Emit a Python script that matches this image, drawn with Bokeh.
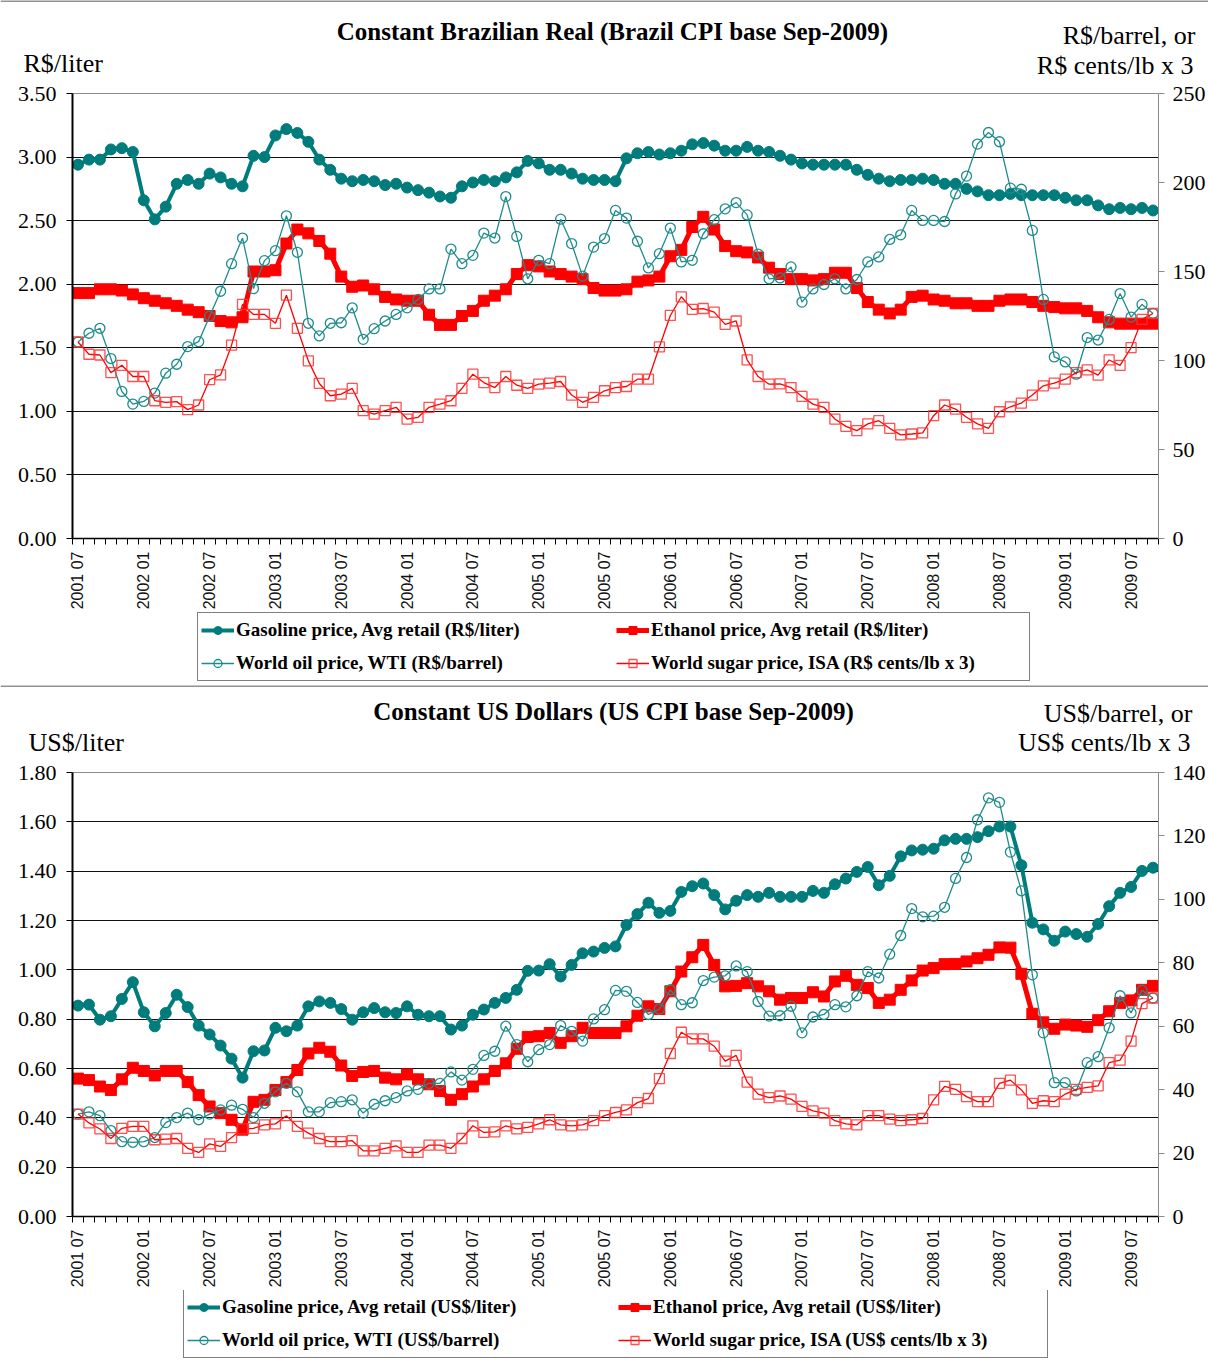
import numpy as np
from bokeh.plotting import figure
from bokeh.models import (Range1d, LinearAxis, FixedTicker, NumeralTickFormatter,
                          Legend, LegendItem, Label, Span)
from bokeh.embed import file_html
from bokeh.resources import INLINE

# ---------------- data ----------------
months = []
for yr in range(2001, 2010):
    for mo in range(1, 13):
        if (yr == 2001 and mo < 7) or (yr == 2009 and mo > 9):
            continue
        months.append(f"{yr} {mo:02d}")

tick_labels = ["2001 07", "2002 01", "2002 07", "2003 01", "2003 07", "2004 01",
               "2004 07", "2005 01", "2005 07", "2006 01", "2006 07", "2007 01",
               "2007 07", "2008 01", "2008 07", "2009 01", "2009 07"]

# Constant Brazilian Real
gas_brl = [2.94, 2.98, 2.98, 3.06, 3.07, 3.04, 2.66, 2.51, 2.61, 2.79, 2.82, 2.79, 2.87, 2.84, 2.79, 2.77, 3.01, 3.00, 3.17, 3.22, 3.19, 3.12, 2.98, 2.90, 2.83,
           2.81, 2.82, 2.81, 2.78, 2.79, 2.76, 2.74, 2.72, 2.69, 2.68, 2.77, 2.80, 2.82, 2.81, 2.84, 2.88, 2.97, 2.95, 2.90, 2.90, 2.87, 2.83, 2.82, 2.82, 2.81,
           2.99, 3.03, 3.04, 3.02, 3.03, 3.05, 3.10, 3.11, 3.09, 3.05, 3.05, 3.08, 3.05, 3.04, 3.01, 2.98, 2.95, 2.94, 2.94, 2.94, 2.94, 2.90, 2.86, 2.83, 2.81,
           2.82, 2.82, 2.83, 2.82, 2.79, 2.79, 2.75, 2.73, 2.70, 2.70, 2.71, 2.70, 2.70, 2.70, 2.70, 2.68, 2.66, 2.66, 2.62, 2.59, 2.60, 2.59, 2.60, 2.58]
eth_brl = [1.93, 1.93, 1.96, 1.96, 1.95, 1.92, 1.89, 1.87, 1.85, 1.83, 1.80, 1.78, 1.75, 1.71, 1.70, 1.74, 2.10, 2.10, 2.11, 2.32, 2.43, 2.40, 2.34, 2.24, 2.06,
           1.98, 1.99, 1.96, 1.90, 1.88, 1.87, 1.87, 1.76, 1.68, 1.68, 1.75, 1.79, 1.87, 1.91, 1.96, 2.08, 2.15, 2.14, 2.10, 2.08, 2.06, 2.04, 1.97, 1.95, 1.95,
           1.96, 2.02, 2.03, 2.06, 2.22, 2.27, 2.45, 2.53, 2.43, 2.30, 2.26, 2.25, 2.21, 2.13, 2.08, 2.04, 2.04, 2.03, 2.04, 2.09, 2.09, 1.97, 1.86, 1.80, 1.77,
           1.80, 1.90, 1.91, 1.88, 1.87, 1.85, 1.85, 1.83, 1.83, 1.87, 1.88, 1.88, 1.86, 1.83, 1.82, 1.81, 1.81, 1.79, 1.74, 1.70, 1.69, 1.69, 1.69, 1.69]
oil_brl = [110.4, 115.3, 118.1, 101.1, 82.6, 75.5, 77.0, 81.7, 92.9, 97.9, 107.8, 110.6, 124.9, 138.9, 154.4, 168.8, 140.4, 156.1, 161.7, 181.3, 160.8, 120.9, 113.8, 120.9, 121.2,
           129.6, 111.9, 117.9, 122.2, 125.9, 129.6, 134.3, 140.2, 140.2, 162.6, 154.4, 159.1, 171.6, 168.8, 192.1, 169.7, 145.9, 156.3, 154.4, 179.4, 165.7, 147.4, 163.7, 168.5, 184.3,
           180.0, 167.0, 152.0, 160.0, 174.4, 155.4, 156.3, 171.2, 179.1, 185.2, 188.7, 181.8, 159.8, 145.9, 146.4, 152.6, 132.8, 140.2, 142.7, 145.9, 140.2, 145.5, 155.4, 158.2, 168.0,
           170.6, 184.3, 178.7, 178.7, 178.1, 193.6, 203.6, 221.6, 228.1, 222.9, 196.8, 196.2, 173.1, 134.3, 102.0, 99.2, 92.3, 112.9, 111.5, 123.1, 137.6, 124.4, 131.5, 126.4]
sugar_brl = [110.4, 103.5, 103.1, 93.2, 97.3, 91.0, 91.0, 77.4, 76.5, 76.9, 72.4, 75.0, 89.2, 91.9, 108.6, 131.5, 125.9, 125.9, 120.9, 136.7, 118.1, 99.8, 87.1, 80.2, 81.1,
             84.3, 71.8, 69.9, 71.8, 73.7, 67.1, 68.1, 73.7, 75.5, 77.4, 84.3, 92.3, 87.6, 84.8, 91.0, 86.1, 84.3, 86.7, 87.3, 88.2, 80.6, 76.5, 79.3, 83.0, 84.8,
             85.4, 89.5, 89.5, 107.6, 125.3, 135.8, 128.7, 129.2, 127.2, 120.3, 122.2, 100.3, 91.0, 86.7, 86.9, 84.8, 79.8, 75.5, 73.7, 67.1, 63.0, 60.6, 64.4, 66.2, 61.9,
             58.2, 58.7, 59.3, 69.0, 75.0, 72.7, 68.1, 64.4, 61.9, 71.2, 74.0, 76.1, 80.6, 85.8, 87.3, 89.5, 93.2, 94.7, 91.8, 100.3, 97.3, 107.2, 123.1, 126.4]

# Constant US Dollars
gas_usd = [0.855, 0.859, 0.798, 0.812, 0.882, 0.950, 0.828, 0.771, 0.825, 0.899, 0.849, 0.774, 0.738, 0.693, 0.640, 0.563, 0.670, 0.673, 0.765, 0.751, 0.774, 0.852, 0.872, 0.866, 0.841,
           0.798, 0.828, 0.845, 0.828, 0.825, 0.852, 0.818, 0.812, 0.812, 0.758, 0.774, 0.818, 0.839, 0.866, 0.886, 0.919, 0.996, 0.997, 1.023, 0.973, 1.020, 1.067, 1.074, 1.089, 1.095,
           1.182, 1.226, 1.272, 1.231, 1.239, 1.316, 1.339, 1.350, 1.303, 1.245, 1.280, 1.303, 1.296, 1.312, 1.296, 1.296, 1.296, 1.320, 1.312, 1.347, 1.370, 1.397, 1.417, 1.343, 1.381,
           1.460, 1.484, 1.487, 1.491, 1.525, 1.531, 1.531, 1.538, 1.562, 1.581, 1.581, 1.424, 1.191, 1.164, 1.118, 1.155, 1.145, 1.134, 1.186, 1.258, 1.312, 1.336, 1.401, 1.414]
eth_usd = [0.559, 0.553, 0.527, 0.513, 0.556, 0.603, 0.590, 0.572, 0.590, 0.590, 0.545, 0.492, 0.446, 0.419, 0.392, 0.352, 0.465, 0.473, 0.513, 0.545, 0.594, 0.661, 0.684, 0.668, 0.612,
           0.570, 0.586, 0.590, 0.563, 0.556, 0.576, 0.556, 0.536, 0.509, 0.473, 0.496, 0.527, 0.556, 0.590, 0.621, 0.680, 0.728, 0.731, 0.744, 0.704, 0.731, 0.765, 0.744, 0.744, 0.744,
           0.771, 0.814, 0.852, 0.841, 0.913, 0.993, 1.051, 1.101, 1.020, 0.933, 0.935, 0.946, 0.933, 0.913, 0.879, 0.886, 0.886, 0.909, 0.892, 0.953, 0.976, 0.939, 0.926, 0.866, 0.879,
           0.919, 0.957, 0.997, 1.007, 1.023, 1.024, 1.034, 1.047, 1.061, 1.091, 1.090, 0.984, 0.822, 0.787, 0.761, 0.778, 0.774, 0.769, 0.796, 0.832, 0.866, 0.876, 0.919, 0.935]
oil_usd = [32.3, 33.0, 31.8, 27.1, 23.6, 23.4, 23.6, 24.9, 29.6, 31.2, 32.6, 30.5, 32.3, 33.6, 35.1, 33.8, 31.2, 35.7, 39.3, 42.0, 39.3, 33.0, 33.0, 35.9, 36.2,
           36.8, 32.6, 35.4, 36.5, 37.5, 39.6, 40.1, 42.0, 42.0, 45.6, 43.0, 46.4, 50.8, 52.1, 60.0, 54.2, 48.8, 52.6, 54.2, 60.2, 58.4, 55.3, 62.3, 65.2, 71.3,
           71.0, 67.5, 63.7, 65.4, 71.5, 66.8, 67.4, 74.4, 75.5, 75.9, 79.0, 77.2, 67.8, 63.2, 63.3, 66.3, 57.9, 62.9, 63.7, 66.8, 66.1, 69.6, 77.2, 75.2, 82.7,
           88.6, 97.1, 94.5, 94.7, 97.5, 106.6, 113.2, 125.1, 132.0, 130.6, 114.9, 102.7, 76.2, 57.9, 42.2, 42.2, 39.6, 48.5, 50.4, 59.5, 69.6, 64.2, 71.3, 68.9]
sugar_usd = [32.3, 29.5, 27.6, 24.6, 27.8, 28.4, 28.4, 24.2, 24.4, 24.6, 21.5, 20.2, 22.9, 22.1, 24.9, 27.6, 27.8, 28.9, 29.2, 31.8, 28.4, 26.3, 24.6, 23.6, 23.6,
             23.9, 20.7, 20.7, 21.5, 22.3, 20.2, 20.2, 22.5, 22.5, 21.5, 24.6, 28.6, 26.5, 26.7, 28.6, 27.6, 28.1, 29.2, 30.5, 28.9, 28.6, 28.9, 30.2, 31.8, 32.8,
             33.6, 35.9, 37.2, 43.5, 51.4, 58.1, 56.0, 56.0, 53.7, 49.0, 50.8, 42.4, 38.6, 37.5, 38.0, 37.0, 34.7, 33.3, 32.6, 30.2, 29.2, 28.9, 31.8, 31.8, 30.7,
             30.2, 30.5, 30.9, 36.8, 41.0, 40.1, 37.8, 36.2, 36.2, 42.0, 43.0, 39.9, 35.7, 36.5, 36.2, 38.6, 40.1, 40.7, 41.2, 48.5, 49.3, 55.3, 67.1, 68.9]

# ---------------- styling ----------------
SERIF = "Liberation Serif"
SANS = "Liberation Sans"
TEAL = "#007C7C"
TEAL2 = "#1F8C8C"
RED = "#FF0000"
GRAY = "#8C8C8C"

W = 1208
FL, FW = 72, 1088  # frame left / width

STYLE = {
    "gas": dict(line=dict(line_color=TEAL, line_width=4),
                mark=dict(marker="circle", size=11, fill_color=TEAL, line_color=TEAL)),
    "eth": dict(line=dict(line_color=RED, line_width=5),
                mark=dict(marker="square", size=11, fill_color=RED, line_color=RED)),
    "oil": dict(line=dict(line_color=TEAL2, line_width=1.3),
                mark=dict(marker="circle", size=10, fill_color=None, line_color=TEAL2, line_width=1.3)),
    "sug": dict(line=dict(line_color=RED, line_width=1.3),
                mark=dict(marker="square", size=10, fill_color=None, line_color="#FF3030",
                          line_width=1.3, line_alpha=0.85)),
}


def canvas_fig(height):
    h = figure(width=W, height=height, x_range=Range1d(0, W), y_range=Range1d(height, 0),
               output_backend="svg", toolbar_location=None,
               x_axis_location=None, y_axis_location=None,
               min_border_left=0, min_border_right=0, min_border_top=0, min_border_bottom=0)
    h.grid.visible = False
    h.outline_line_color = None
    h.background_fill_color = "white"
    h.border_fill_color = "white"
    return h


def header(height, texts):
    h = canvas_fig(height)
    h.add_layout(Span(location=0.5, dimension="width", line_color="#6E6E6E", line_width=1.5))
    for txt, x, y, align, bold, size in texts:
        h.add_layout(Label(x=x, y=y, text=txt, text_align=align, text_baseline="middle",
                           text_font=SERIF, text_font_style="bold" if bold else "normal",
                           text_font_size=size, text_color="black"))
    return h


def legend_fig(height, labels, left, bottom, lw):
    h = canvas_fig(height)
    rs = {}
    for k in ["gas", "eth", "oil", "sug"]:
        # legend key only: a single point placed off the canvas
        l = h.line(x=[-500, -400], y=[-500, -500], **STYLE[k]["line"])
        m = h.scatter(x=[-500], y=[-500], **STYLE[k]["mark"])
        rs[k] = [l, m]
    items = [LegendItem(label=labels[0], renderers=rs["gas"]),
             LegendItem(label=labels[2], renderers=rs["oil"]),
             LegendItem(label=labels[1], renderers=rs["eth"]),
             LegendItem(label=labels[3], renderers=rs["sug"])]
    legend = Legend(items=items, location=(left, bottom),
                    orientation="vertical", ncols=2,
                    border_line_color="black", border_line_width=1,
                    background_fill_color="white", background_fill_alpha=1,
                    padding=3, spacing=5, margin=0,
                    glyph_width=33, glyph_height=20, label_standoff=2,
                    label_height=28, label_width=lw,
                    label_text_font=SERIF, label_text_font_style="bold",
                    label_text_font_size="19px", label_text_color="black")
    h.add_layout(legend, "center")
    return h


def panel(ftop, fh, fbot, ymax, ystep, rmax, rstep, series):
    gas, eth, oil, sug = series
    height = ftop + fh + fbot
    x = list(range(len(months)))
    p = figure(width=W, height=height, x_range=Range1d(-0.5, len(months) - 0.5),
               y_range=Range1d(0, ymax), output_backend="svg", toolbar_location=None,
               min_border_left=FL, min_border_right=W - FL - FW,
               min_border_top=ftop, min_border_bottom=fbot)
    p.background_fill_color = "white"
    p.border_fill_color = "white"
    p.outline_line_color = GRAY
    p.outline_line_width = 1
    p.xgrid.visible = False

    lt = [round(i * ystep, 4) for i in range(int(round(ymax / ystep)) + 1)]
    p.ygrid.ticker = FixedTicker(ticks=lt[1:-1])
    p.ygrid.grid_line_color = "#111111"
    p.ygrid.grid_line_width = 1
    p.yaxis.ticker = FixedTicker(ticks=lt)
    p.yaxis.formatter = NumeralTickFormatter(format="0.00")
    p.yaxis.axis_line_color = "black"
    p.yaxis.axis_line_width = 2
    p.yaxis.major_tick_out = 6
    p.yaxis.major_tick_in = 0
    p.yaxis.minor_tick_line_color = None
    p.yaxis.major_label_text_font = SERIF
    p.yaxis.major_label_text_font_size = "22px"
    p.yaxis.major_label_text_color = "black"
    p.yaxis.major_label_standoff = 10

    idx = [months.index(t) for t in tick_labels]
    p.xaxis.ticker = FixedTicker(ticks=idx, minor_ticks=[i - 0.5 for i in range(len(months) + 1)])
    p.xaxis.major_label_overrides = {i: t for i, t in zip(idx, tick_labels)}
    p.xaxis.major_label_orientation = np.pi / 2
    p.xaxis.major_tick_out = 0
    p.xaxis.major_tick_in = 0
    p.xaxis.minor_tick_out = 6
    p.xaxis.minor_tick_in = 0
    p.xaxis.minor_tick_line_color = "black"
    p.xaxis.axis_line_color = "black"
    p.xaxis.axis_line_width = 1.5
    p.xaxis.major_label_text_font = SANS
    p.xaxis.major_label_text_font_size = "16px"
    p.xaxis.major_label_text_color = "#111111"
    p.xaxis.major_label_standoff = 7

    p.extra_y_ranges = {"r": Range1d(0, rmax)}
    rt = [i * rstep for i in range(int(rmax // rstep) + 1)]
    ra = LinearAxis(y_range_name="r", ticker=FixedTicker(ticks=rt))
    ra.axis_line_color = GRAY
    ra.major_tick_line_color = GRAY
    ra.major_tick_out = 6
    ra.major_tick_in = 0
    ra.minor_tick_line_color = None
    ra.major_label_text_font = SERIF
    ra.major_label_text_font_size = "22px"
    ra.major_label_text_color = "black"
    ra.major_label_standoff = 8
    p.add_layout(ra, "right")

    p.line(x, gas, **STYLE["gas"]["line"])
    p.scatter(x, gas, **STYLE["gas"]["mark"])
    p.line(x, eth, **STYLE["eth"]["line"])
    p.scatter(x, eth, **STYLE["eth"]["mark"])
    p.line(x, oil, y_range_name="r", **STYLE["oil"]["line"])
    p.scatter(x, oil, y_range_name="r", **STYLE["oil"]["mark"])
    p.line(x, sug, y_range_name="r", **STYLE["sug"]["line"])
    p.scatter(x, sug, y_range_name="r", **STYLE["sug"]["mark"])
    return p


labels_brl = ["Gasoline price, Avg retail (R$/liter)", "Ethanol price, Avg retail (R$/liter)",
              "World oil price, WTI (R$/barrel)", "World sugar price, ISA (R$ cents/lb x 3)"]
labels_usd = ["Gasoline price, Avg retail (US$/liter)", "Ethanol price, Avg retail (US$/liter)",
              "World oil price, WTI (US$/barrel)", "World sugar price, ISA (US$ cents/lb x 3)"]

top_head = header(81,
                  [("Constant Brazilian Real (Brazil CPI base Sep-2009)", 612, 31, "center", True, "25px"),
                   ("R$/liter", 23, 63, "left", False, "26px"),
                   ("R$/barrel, or", 1195, 35, "right", False, "26px"),
                   ("R$ cents/lb x 3", 1193, 65, "right", False, "26px")])
top_main = panel(12, 447, 72, 3.5, 0.5, 250, 50, (gas_brl, eth_brl, oil_brl, sugar_brl))
top_leg = legend_fig(73, labels_brl, 197, 4, 375)

bot_head = header(75,
                  [("Constant US Dollars (US CPI base Sep-2009)", 613, 26, "center", True, "25px"),
                   ("US$/liter", 28, 57, "left", False, "26px"),
                   ("US$/barrel, or", 1192, 28, "right", False, "26px"),
                   ("US$ cents/lb x 3", 1190, 57, "right", False, "26px")])
bot_main = panel(12, 446, 72, 1.8, 0.2, 140, 20, (gas_usd, eth_usd, oil_usd, sugar_usd))
bot_leg = legend_fig(71, labels_usd, 183, 3, 391)

open("out.html", "w").write(file_html([top_head, top_main, top_leg, bot_head, bot_main, bot_leg], INLINE))
